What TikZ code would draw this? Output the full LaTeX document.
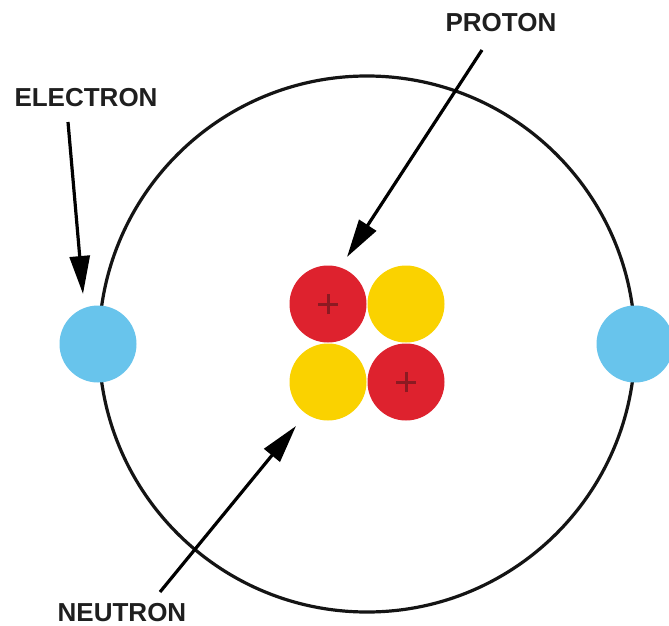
\documentclass[tikz,border=0pt]{standalone}
\usepackage{fontspec}
\setmainfont{Liberation Sans}
\usetikzlibrary{arrows.meta}
\definecolor{protonred}{RGB}{222,34,46}
\definecolor{neutronyellow}{RGB}{250,210,0}
\definecolor{electronblue}{RGB}{104,196,236}
\definecolor{plusred}{RGB}{140,26,34}
\tikzset{
  particle/.style={circle, inner sep=0pt, minimum size=77pt},
  proton/.style={particle, fill=protonred},
  neutron/.style={particle, fill=neutronyellow},
  electron/.style={particle, fill=electronblue},
  label/.style={font=\fontsize{26}{30}\selectfont\bfseries, text=black!88, inner sep=0pt},
  pointer/.style={line width=3.2pt, -{Triangle[length=38pt, width=20pt]}},
  plus/.style={line width=3pt, plusred}
}
\begin{document}
\begin{tikzpicture}[x=1pt, y=-1pt]
  \useasboundingbox (0,0) rectangle (669,626);
  \fill[white] (0,0) rectangle (669,626);

  % orbit
  \node[circle, draw=black!92, line width=3.2pt, inner sep=0pt, minimum size=536pt] (orbit) at (367,344) {};

  % electrons on the orbit
  \node[electron] (eleft) at (98,344) {};
  \node[electron] (eright) at (635,344) {};

  % nucleus
  \node[proton]  (p1) at (328,304) {};
  \node[neutron] (n1) at (406,304) {};
  \node[neutron] (n2) at (328,382) {};
  \node[proton]  (p2) at (406,382) {};
  \draw[plus] ([xshift=-10pt]p1.center) -- ([xshift=10pt]p1.center)
              ([yshift=-10pt]p1.center) -- ([yshift=10pt]p1.center);
  \draw[plus] ([xshift=-10pt]p2.center) -- ([xshift=10pt]p2.center)
              ([yshift=-10pt]p2.center) -- ([yshift=10pt]p2.center);

  % labels
  \node[label] (lelectron) at (86,98) {ELECTRON};
  \node[label] (lproton) at (501,23) {PROTON};
  \node[label] (lneutron) at (122,613) {NEUTRON};

  % pointer ends
  \coordinate (ae0) at (68,122);
  \coordinate (ae1) at (83,294);
  \coordinate (ap0) at (482,50);
  \coordinate (ap1) at (347,257);
  \coordinate (an0) at (160,592);
  \coordinate (an1) at (296,426);

  \draw[pointer] (ae0) -- (ae1);
  \draw[pointer] (ap0) -- (ap1);
  \draw[pointer] (an0) -- (an1);
\end{tikzpicture}
\end{document}
